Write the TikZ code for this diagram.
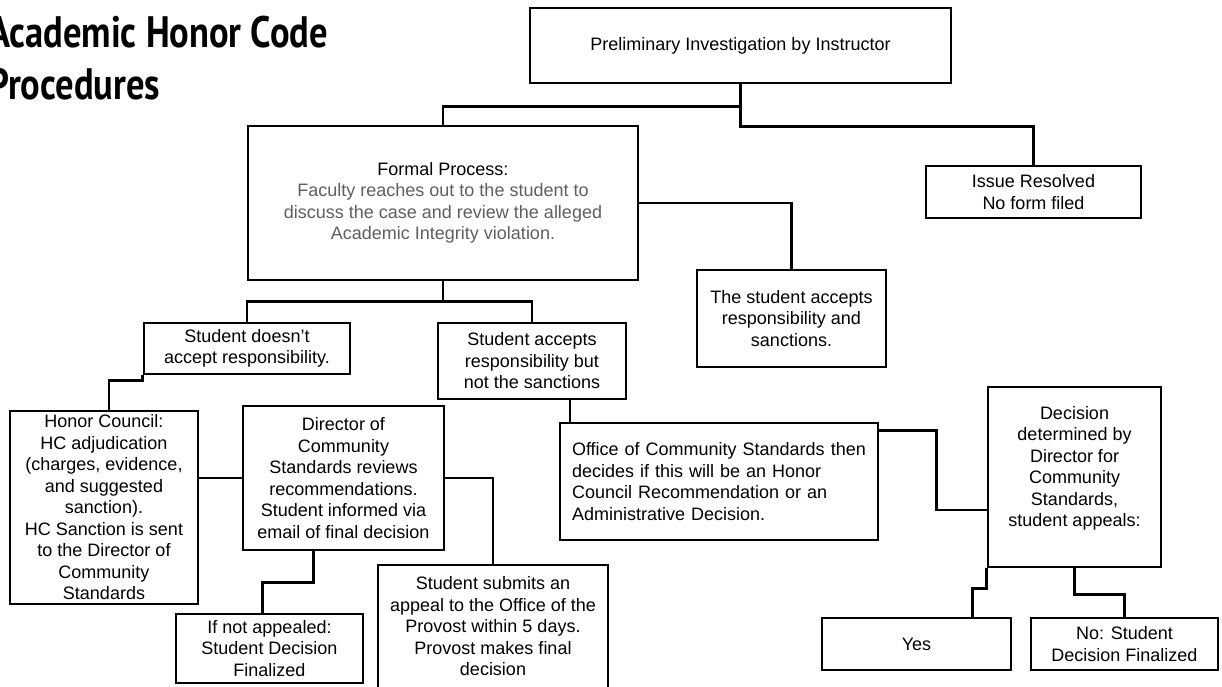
\documentclass[tikz,border=0pt]{standalone}
\usepackage{fontspec}
\setmainfont{Liberation Sans}
\newfontfamily\titlefont[FakeStretch=0.83]{PT Sans}
\usetikzlibrary{calc}
\definecolor{graytext}{HTML}{5F5F5F}
\tikzset{
  box/.style={draw=black, line width=2.6pt, inner sep=0pt, align=center,
    font=\fontsize{18}{21.5}\selectfont, text=black},
  conn/.style={draw=black, line width=2.6pt},
  ttl/.style={anchor=base west, inner sep=0pt, font=\titlefont\bfseries\fontsize{44}{50}\selectfont}
}
\begin{document}
\begin{tikzpicture}[x=1pt,y=-1pt]
\useasboundingbox (0,0) rectangle (1222,686);
\fill[white] (0,0) rectangle (1222,686);

\node[ttl] (t1) at (-12,47) {Academic Honor Code};
\node[ttl] (t2) at (-12,99) {Procedures};

\node[box, minimum width=421, minimum height=75] (pre) at (740.5,45.5) {Preliminary Investigation by Instructor};
\node[box, minimum width=390, minimum height=154] (formal) at (443,203) {Formal Process:\\\textcolor{graytext}{Faculty reaches out to the student to}\\\textcolor{graytext}{discuss the case and review the alleged}\\\textcolor{graytext}{Academic Integrity violation.}};
\node[box, minimum width=189, minimum height=97] (acc) at (791.5,318.5) {The student accepts\\responsibility and\\sanctions.};
\node[box, minimum width=215, minimum height=52] (issue) at (1033.5,192) {Issue Resolved\\No form filed};
\node[box, minimum width=206, minimum height=51] (sd) at (247,348.5) {Student doesn't\\accept responsibility.};
\node[box, minimum width=188, minimum height=76] (acs) at (532,361) {Student accepts\\responsibility but\\not the sanctions};
\node[box, minimum width=188, minimum height=193] (hc) at (104,507.5) {Honor Council:\\HC adjudication\\(charges, evidence,\\and suggested\\sanction).\\HC Sanction is sent\\to the Director of\\Community\\Standards};
\node[box, minimum width=201, minimum height=144] (dcs) at (343.5,478) {Director of\\Community\\Standards reviews\\recommendations.\\Student informed via\\email of final decision};
\node[box, minimum width=187, minimum height=69] (ifn) at (269.5,648.5) {If not appealed:\\Student Decision\\Finalized};
\node[box, minimum width=230, minimum height=123] (sub) at (493,626.5) {Student submits an\\appeal to the Office of the\\Provost within 5 days.\\Provost makes final\\decision};
\node[box, minimum width=318, minimum height=117, text width=294, align=left] (ocs) at (719,481.5) {Office of Community Standards then\\decides if this will be an Honor\\Council Recommendation or an\\Administrative Decision.};
\node[box, minimum width=173, minimum height=180] (dec) at (1074.5,477) {Decision\\determined by\\Director for\\Community\\Standards,\\student appeals:\\~};
\node[box, minimum width=189, minimum height=52] (yes) at (916.5,644) {Yes};
\node[box, minimum width=187, minimum height=52] (no) at (1124.5,644) {No: Student\\Decision Finalized};

\draw[conn] (pre.south) -- ++(0,22) -| (formal.north);
\draw[conn] (pre.south) -- ++(0,42) -| (issue.north);
\draw[conn] (formal.east) -| (acc.north);
\draw[conn] (formal.south) -- ++(0,20) -| (sd.north);
\draw[conn] (formal.south) -- ++(0,20) -| (acs.north);
\draw[conn] (sd.south west) -- ++(0,5) -| ([xshift=5pt]hc.north);
\draw[conn] (dcs.west) -- (dcs.west -| hc.east);
\draw[conn] (dcs.east) -| (sub.north);
\draw[conn] ([xshift=-30pt]dcs.south) -- ++(0,31) -| ([xshift=-7pt]ifn.north);
\draw[conn] ([xshift=38pt]acs.south) -- ([xshift=38pt]acs.south |- ocs.north);
\draw[conn] ([yshift=-9pt]ocs.north east) -- ++(57,0) |- ([yshift=-33pt]dec.west);
\draw[conn] (dec.south west) -- ++(0,20) -| ([xshift=56pt]yes.north);
\draw[conn] (dec.south) -- ++(0,26) -| (no.north);
\end{tikzpicture}
\end{document}
